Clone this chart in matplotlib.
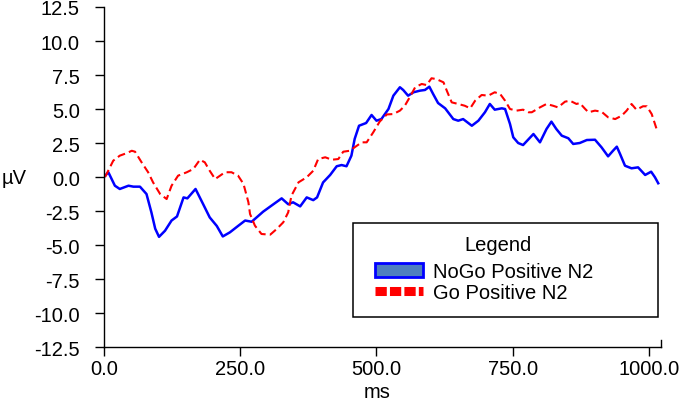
"""
ERP waveforms: NoGo vs Go positive N2.
"""
import matplotlib
matplotlib.use("Agg")
import matplotlib.pyplot as plt
from matplotlib.patches import Patch, Rectangle
from matplotlib.lines import Line2D

plt.rcParams['font.family'] = ['Liberation Sans', 'DejaVu Sans']

# --------- DATA ---------

nogo_ms = [0, 8, 20, 29, 45, 54, 66, 78, 87, 94, 101, 112, 124, 134, 146, 153, 168,
           182, 194, 207, 218, 231, 246, 259, 271, 292, 311, 326, 338, 347, 360, 372,
           384, 391, 402, 415, 427, 436, 445, 454, 460, 468, 481, 491, 500, 509, 522,
           531, 543, 549, 558, 568, 580, 589, 597, 604, 613, 626, 641, 650, 659, 675,
           687, 699, 708, 717, 730, 736, 745, 751, 760, 769, 788, 800, 812, 821, 830,
           840, 852, 861, 873, 886, 901, 913, 925, 934, 941, 947, 956, 968, 980, 993,
           1004, 1011, 1017]
nogo_uv = [0.0, 0.35, -0.64, -0.88, -0.64, -0.71, -0.71, -1.25, -2.6, -3.8, -4.4, -3.95,
           -3.2, -2.9, -1.5, -1.57, -0.88, -2.0, -2.97, -3.6, -4.37, -4.07, -3.6, -3.2,
           -3.29, -2.55, -2.0, -1.57, -2.0, -1.86, -2.16, -1.5, -1.7, -1.5, -0.4, 0.15,
           0.79, 0.88, 0.79, 1.57, 2.8, 3.77, 3.97, 4.56, 4.14, 4.26, 5.0, 5.98, 6.6,
           6.4, 5.98, 6.23, 6.35, 6.4, 6.64, 6.1, 5.44, 5.05, 4.26, 4.14, 4.26, 3.77,
           4.14, 4.76, 5.37, 4.95, 5.05, 5.0, 3.9, 2.92, 2.5, 2.35, 3.16, 2.55, 3.53,
           4.07, 3.53, 3.04, 2.85, 2.43, 2.5, 2.72, 2.74, 2.18, 1.52, 1.93, 2.23, 1.69,
           0.83, 0.64, 0.71, 0.15, 0.39, -0.02, -0.46]

go_ms = [2, 17, 29, 42, 51, 57, 69, 81, 90, 103, 115, 124, 136, 152, 164, 176, 185, 194,
         204, 213, 222, 234, 246, 256, 265, 268, 277, 289, 305, 317, 329, 338, 344, 357,
         372, 384, 393, 406, 418, 430, 439, 451, 464, 473, 482, 494, 506, 519, 531, 543,
         552, 561, 571, 583, 592, 601, 610, 623, 629, 638, 650, 662, 672, 681, 693, 705,
         717, 727, 736, 745, 757, 769, 779, 785, 800, 812, 824, 833, 846, 855, 867, 873,
         883, 889, 901, 913, 925, 938, 950, 959, 968, 977, 989, 996, 1005, 1014]
go_uv = [0.0, 1.2, 1.57, 1.76, 1.93, 1.86, 1.08, 0.35, -0.39, -1.25, -1.62, -0.64, 0.1,
         0.35, 0.59, 1.27, 1.08, 0.46, -0.15, 0.1, 0.35, 0.35, 0.1, -0.51, -1.86, -2.72,
         -3.58, -4.19, -4.24, -3.82, -3.33, -2.6, -1.37, -0.39, -0.02, 0.46, 1.32, 1.45,
         1.27, 1.32, 1.86, 1.93, 2.3, 2.55, 2.55, 3.28, 4.08, 4.6, 4.63, 4.88, 5.24, 5.86,
         6.6, 6.84, 6.76, 7.26, 7.2, 6.96, 6.35, 5.49, 5.37, 5.24, 5.05, 5.61, 6.03, 5.98,
         6.23, 6.1, 5.61, 5.0, 4.88, 4.95, 4.76, 4.76, 5.12, 5.37, 5.24, 5.12, 5.54, 5.61,
         5.37, 5.44, 5.0, 4.76, 4.88, 4.8, 4.39, 4.26, 4.51, 4.88, 5.37, 4.95, 5.2, 5.2,
         4.63, 3.53]

x_ticks = [0, 250, 500, 750, 1000]
y_ticks = [12.5, 10.0, 7.5, 5.0, 2.5, 0.0, -2.5, -5.0, -7.5, -10.0, -12.5]
labels = ['NoGo Positive N2', 'Go Positive N2']

# --------- PLOT ---------

fig = plt.figure(figsize=(6.85, 4.02), dpi=100)
ax = fig.add_axes([0.1518, 0.1343, 0.8131, 0.8458])

ax.plot(nogo_ms, nogo_uv, color='#0000ff', lw=1.8)
ax.plot(go_ms, go_uv, color='#ff0000', lw=1.5, dashes=(3.8, 2.0))

ax.set_xlim(0, 1022)
ax.set_ylim(-12.5, 12.5)
ax.set_xticks(x_ticks, [f"{t:.1f}" for t in x_ticks])
ax.set_yticks(y_ticks, [f"{t:.1f}" for t in y_ticks])
ax.tick_params(axis='both', direction='out', length=6.5, width=1.0, labelsize=14.5)
ax.tick_params(axis='y', pad=11)
ax.tick_params(axis='x', pad=2)

ax.spines['top'].set_visible(False)
ax.spines['right'].set_bounds(-12.5, -12.0)
for side in ['left', 'bottom', 'right']:
    ax.spines[side].set_linewidth(1.0)

fig.text(0.003, 0.557, 'µV', fontsize=14.5, va='center', ha='left')
fig.text(0.550, 0.01, 'ms', fontsize=14.5, va='baseline', ha='center')

# legend: frame + title drawn by hand, entries from ax.legend
ax.add_patch(Rectangle((0.447, 0.088), 0.5476, 0.2765, transform=ax.transAxes,
                       facecolor='white', edgecolor='black', lw=1.1, zorder=4))
ax.text(0.7074, 0.2853, 'Legend', transform=ax.transAxes, fontsize=14.5,
        ha='center', va='baseline', zorder=5)
handles = [
    Patch(facecolor='#4f7fbf', edgecolor='#0000ff', lw=2.0),
    Line2D([], [], color='#ff0000', lw=6.5, dashes=(1.25, 0.35), dash_capstyle='butt'),
]
leg = ax.legend(handles, labels, loc='upper left', bbox_to_anchor=(0.4865, 0.25),
                fontsize=14.5, frameon=False, handlelength=2.4, handleheight=0.7,
                handletextpad=0.5, labelspacing=0.1, borderpad=0, borderaxespad=0)
leg.set_zorder(6)

fig.savefig("out.png", dpi=100)
